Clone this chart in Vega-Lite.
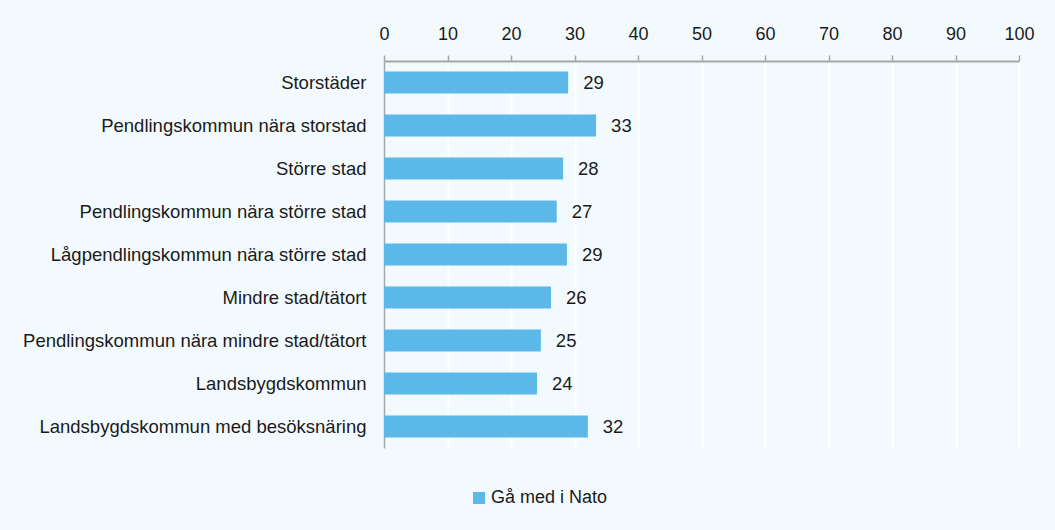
{
  "$schema": "https://vega.github.io/schema/vega-lite/v6.json",
  "autosize": "none",
  "width": 635,
  "height": 387,
  "padding": {"left": 384, "top": 61, "right": 36, "bottom": 82},
  "background": "#F3FAFE",
  "config": {
    "view": {"stroke": null},
    "font": "Liberation Sans",
    "axis": {"labelFont": "Liberation Sans", "labelColor": "#1a1a1a"}
  },
  "data": {
    "values": [
      {"kategori": "Storstäder", "varde": 29.0, "serie": "Gå med i Nato"},
      {"kategori": "Pendlingskommun nära storstad", "varde": 33.4, "serie": "Gå med i Nato"},
      {"kategori": "Större stad", "varde": 28.2, "serie": "Gå med i Nato"},
      {"kategori": "Pendlingskommun nära större stad", "varde": 27.2, "serie": "Gå med i Nato"},
      {"kategori": "Lågpendlingskommun nära större stad", "varde": 28.8, "serie": "Gå med i Nato"},
      {"kategori": "Mindre stad/tätort", "varde": 26.3, "serie": "Gå med i Nato"},
      {"kategori": "Pendlingskommun nära mindre stad/tätort", "varde": 24.7, "serie": "Gå med i Nato"},
      {"kategori": "Landsbygdskommun", "varde": 24.1, "serie": "Gå med i Nato"},
      {"kategori": "Landsbygdskommun med besöksnäring", "varde": 32.1, "serie": "Gå med i Nato"}
    ]
  },
  "encoding": {
    "y": {
      "field": "kategori",
      "type": "nominal",
      "sort": null,
      "title": null,
      "scale": {"paddingInner": 0.49, "paddingOuter": 0.245},
      "axis": {
        "domainColor": "#A6A6A6",
        "domainWidth": 1.5,
        "ticks": false,
        "labelPadding": 18,
        "labelFontSize": 18.5,
        "labelLimit": 400
      }
    },
    "x": {
      "field": "varde",
      "type": "quantitative",
      "title": null,
      "scale": {"domain": [0, 100], "nice": false},
      "axis": {
        "orient": "top",
        "values": [0, 10, 20, 30, 40, 50, 60, 70, 80, 90, 100],
        "labelFlush": false,
        "domainColor": "#A6A6A6",
        "domainWidth": 2,
        "tickColor": "#A6A6A6",
        "tickWidth": 1.5,
        "tickSize": 6,
        "labelPadding": 12,
        "labelFontSize": 18,
        "grid": true,
        "gridColor": "#FFFFFF",
        "gridWidth": 2
      }
    }
  },
  "layer": [
    {
      "mark": {"type": "bar", "color": "#5BB8E8"},
      "encoding": {
        "color": {
          "field": "serie",
          "type": "nominal",
          "scale": {"range": ["#5BB8E8"]},
          "legend": {
            "title": null,
            "orient": "none",
            "legendX": 86,
            "legendY": 428,
            "symbolType": "square",
            "symbolSize": 144,
            "symbolStrokeWidth": 0,
            "labelFontSize": 18,
            "labelColor": "#1a1a1a",
            "labelOffset": 3
          }
        }
      }
    },
    {
      "mark": {"type": "text", "align": "left", "baseline": "middle", "dx": 15, "fontSize": 18.5, "color": "#1a1a1a"},
      "encoding": {
        "text": {"field": "varde", "type": "quantitative", "format": ".0f"}
      }
    }
  ]
}
